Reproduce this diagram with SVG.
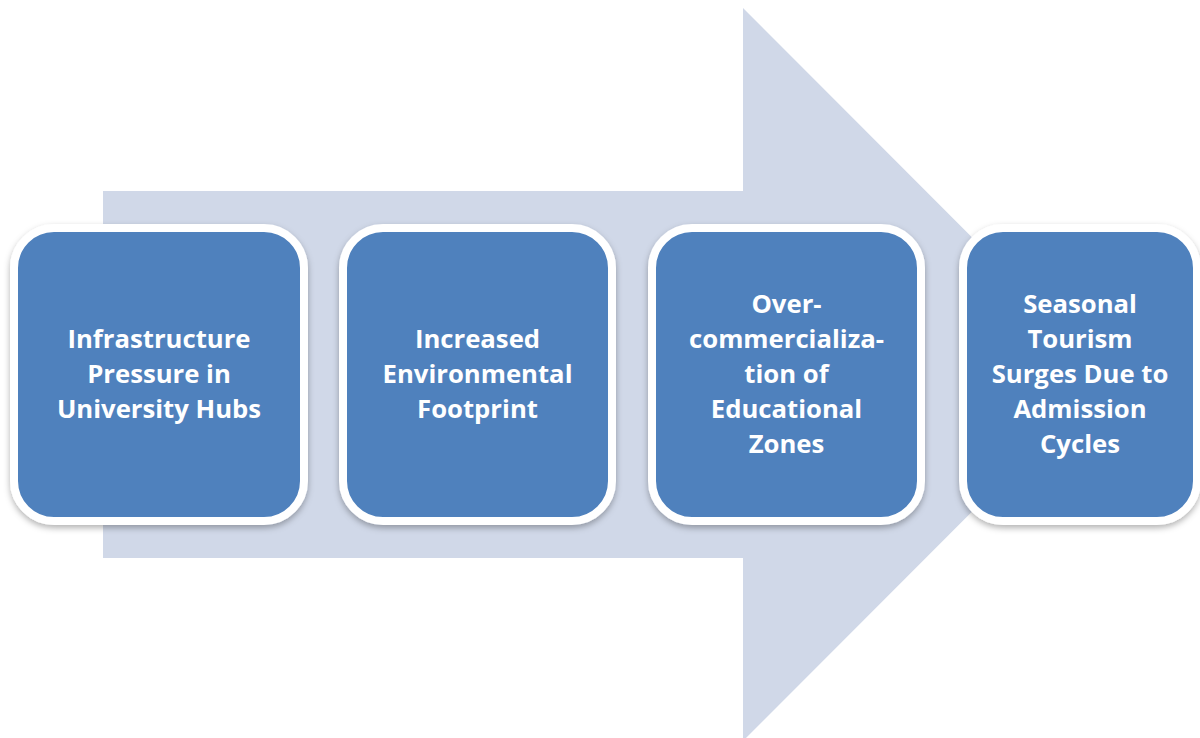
<svg xmlns="http://www.w3.org/2000/svg" width="1200" height="738" viewBox="0 0 1200 738">
<style>
.box{fill:#4F81BD;stroke:#FFFFFF;stroke-width:8;filter:url(#sh)}
.t{font-family:"Open Sans","Liberation Sans",sans-serif;font-weight:bold;font-size:25.7px;fill:#FFFFFF;text-anchor:middle}
</style>
<defs>
<filter id="sh" x="-10%" y="-10%" width="120%" height="125%">
<feDropShadow dx="0" dy="3" stdDeviation="3" flood-color="#000000" flood-opacity="0.3"/>
</filter>
</defs>
<g id="arrow">
<path d="M103,191 H743 V8 L1109,374.5 L743,741 V558 H103 Z" fill="#D0D8E8"/>
</g>
<g id="connectors"></g>
<g id="node1">
<rect class="box" x="14" y="228" width="290" height="293" rx="40" ry="40"/>
<text class="t"><tspan x="159" y="348">Infrastructure</tspan><tspan x="159" y="383">Pressure in</tspan><tspan x="159" y="418">University Hubs</tspan></text>
</g>
<g id="node2">
<rect class="box" x="343" y="228" width="269" height="293" rx="40" ry="40"/>
<text class="t"><tspan x="477.5" y="348">Increased</tspan><tspan x="477.5" y="383">Environmental</tspan><tspan x="477.5" y="418">Footprint</tspan></text>
</g>
<g id="node3">
<rect class="box" x="652" y="228" width="269" height="293" rx="40" ry="40"/>
<text class="t"><tspan x="786.5" y="313">Over-</tspan><tspan x="786.5" y="348">commercializa-</tspan><tspan x="786.5" y="383">tion of</tspan><tspan x="786.5" y="418">Educational</tspan><tspan x="786.5" y="453">Zones</tspan></text>
</g>
<g id="node4">
<rect class="box" x="963" y="228" width="234" height="293" rx="40" ry="40"/>
<text class="t"><tspan x="1080" y="313">Seasonal</tspan><tspan x="1080" y="348">Tourism</tspan><tspan x="1080" y="383">Surges Due to</tspan><tspan x="1080" y="418">Admission</tspan><tspan x="1080" y="453">Cycles</tspan></text>
</g>
</svg>
